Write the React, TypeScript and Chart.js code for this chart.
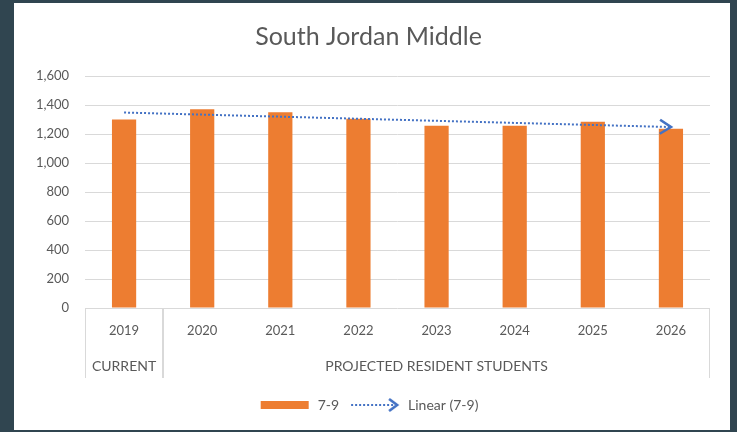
import { useEffect, useRef } from "react";
import { Chart, registerables } from "chart.js";

Chart.register(...registerables);

const TITLE = "South Jordan Middle";
const YEARS = ["2019", "2020", "2021", "2022", "2023", "2024", "2025", "2026"];
const ENROLLMENT = [1300, 1370, 1350, 1306, 1257, 1257, 1285, 1237];
const GROUP_LABELS = ["CURRENT", "PROJECTED RESIDENT STUDENTS"];
const GROUP_FIRST_YEAR = ["2019", "2020"];
const GROUP_LAST_YEAR = ["2019", "2026"];
const TREND_YEARS = ["2019", "2026"];
const TREND_VALUES = [1348, 1248];
const Y_MIN = 0;
const Y_MAX = 1600;
const Y_STEP = 200;
const SERIES_LABEL = "7-9";
const TREND_LABEL = "Linear (7-9)";

const BG = "#304550";
const ORANGE = "#ED7D31";
const BLUE = "#4472C4";
const GRID = "#d9d9d9";
const TEXT = "#595959";
const FONT = "Lato, 'Open Sans', sans-serif";

function drawChevron(ctx: CanvasRenderingContext2D, x: number, y: number, angle: number) {
  ctx.save();
  ctx.translate(x, y);
  ctx.rotate(angle);
  ctx.strokeStyle = BLUE;
  ctx.lineWidth = 2.6;
  ctx.lineCap = "butt";
  ctx.lineJoin = "miter";
  ctx.beginPath();
  ctx.moveTo(-11, -7);
  ctx.lineTo(0, 0);
  ctx.lineTo(-11, 7);
  ctx.stroke();
  ctx.restore();
}

const groupAxisPlugin = {
  id: "groupAxis",
  afterDraw(chart: any) {
    const ctx: CanvasRenderingContext2D = chart.ctx;
    const xs = chart.scales.x;
    const area = chart.chartArea;
    const top = area.bottom;
    const bottom = top + 70;
    const half = (xs.getPixelForValue(1) - xs.getPixelForValue(0)) / 2;
    ctx.save();
    ctx.strokeStyle = GRID;
    ctx.lineWidth = 1;
    const edges = new Set<number>();
    GROUP_LABELS.forEach((_, i) => {
      const a = YEARS.indexOf(GROUP_FIRST_YEAR[i]);
      const b = YEARS.indexOf(GROUP_LAST_YEAR[i]);
      edges.add(Math.round(xs.getPixelForValue(a) - half) + 0.5);
      edges.add(Math.round(xs.getPixelForValue(b) + half) - 0.5);
    });
    edges.forEach((ex) => {
      ctx.beginPath();
      ctx.moveTo(ex, top);
      ctx.lineTo(ex, bottom);
      ctx.stroke();
    });
    ctx.fillStyle = TEXT;
    ctx.font = `14px ${FONT}`;
    ctx.textAlign = "center";
    ctx.textBaseline = "middle";
    GROUP_LABELS.forEach((lab, i) => {
      const a = YEARS.indexOf(GROUP_FIRST_YEAR[i]);
      const b = YEARS.indexOf(GROUP_LAST_YEAR[i]);
      const cx = (xs.getPixelForValue(a) + xs.getPixelForValue(b)) / 2;
      ctx.fillText(lab, cx, top + 58);
    });
    ctx.restore();
  },
  afterDatasetsDraw(chart: any) {
    const meta = chart.getDatasetMeta(1);
    if (!meta || !meta.data || meta.data.length < 2) return;
    const p1 = meta.data[meta.data.length - 2];
    const p2 = meta.data[meta.data.length - 1];
    const ang = Math.atan2(p2.y - p1.y, p2.x - p1.x);
    drawChevron(chart.ctx, p2.x, p2.y, ang);
  },
};

function makeBarIcon(): HTMLCanvasElement {
  const c = document.createElement("canvas");
  c.width = 52;
  c.height = 14;
  const g = c.getContext("2d")!;
  g.fillStyle = ORANGE;
  g.fillRect(2, 3, 48, 8);
  return c;
}

function makeTrendIcon(): HTMLCanvasElement {
  const c = document.createElement("canvas");
  c.width = 52;
  c.height = 16;
  const g = c.getContext("2d")!;
  g.strokeStyle = BLUE;
  g.lineWidth = 2;
  g.setLineDash([2, 2]);
  g.beginPath();
  g.moveTo(2, 8);
  g.lineTo(46, 8);
  g.stroke();
  g.setLineDash([]);
  g.lineWidth = 2.6;
  g.beginPath();
  g.moveTo(40, 2);
  g.lineTo(48, 8);
  g.lineTo(40, 14);
  g.stroke();
  return c;
}

export default function App() {
  const ref = useRef<HTMLCanvasElement | null>(null);

  useEffect(() => {
    document.body.style.margin = "0";
    if (!ref.current) return;
    const barIcon = makeBarIcon();
    const trendIcon = makeTrendIcon();
    const chart = new Chart(ref.current, {
      type: "bar",
      data: {
        labels: YEARS,
        datasets: [
          {
            type: "bar",
            label: SERIES_LABEL,
            data: ENROLLMENT,
            backgroundColor: ORANGE,
            barPercentage: 0.31,
            categoryPercentage: 1,
            order: 2,
          },
          {
            type: "line",
            label: TREND_LABEL,
            data: TREND_YEARS.map((yr, i) => ({ x: yr, y: TREND_VALUES[i] })) as any,
            borderColor: BLUE,
            borderWidth: 2,
            borderDash: [2, 2],
            pointRadius: 0,
            fill: false,
            order: 1,
          },
        ],
      },
      options: {
        responsive: true,
        maintainAspectRatio: false,
        animation: false,
        layout: { padding: { left: 13, right: 20, top: 0, bottom: 8 } },
        plugins: {
          tooltip: { enabled: false },
          title: {
            display: true,
            text: TITLE,
            color: TEXT,
            font: { family: FONT, size: 25, weight: "normal" },
            padding: { top: 19, bottom: 24 },
          },
          legend: {
            position: "bottom",
            labels: {
              usePointStyle: true,
              pointStyleWidth: 52,
              boxHeight: 12,
              padding: 10,
              color: TEXT,
              font: { family: FONT, size: 14 },
              generateLabels: () => [
                { text: SERIES_LABEL, pointStyle: barIcon as any, fillStyle: ORANGE, strokeStyle: ORANGE, lineWidth: 0, hidden: false, datasetIndex: 0, fontColor: TEXT },
                { text: TREND_LABEL, pointStyle: trendIcon as any, fillStyle: BLUE, strokeStyle: BLUE, lineWidth: 0, hidden: false, datasetIndex: 1, fontColor: TEXT },
              ],
            },
          },
        },
        scales: {
          x: {
            type: "category",
            offset: true,
            grid: { display: false, drawTicks: false },
            border: { display: false },
            ticks: { color: TEXT, font: { family: FONT, size: 13 }, padding: 15, maxRotation: 0 },
            afterFit: (s: any) => {
              s.height = 80;
            },
          },
          y: {
            min: Y_MIN,
            max: Y_MAX,
            ticks: { stepSize: Y_STEP, color: TEXT, font: { family: FONT, size: 13 }, padding: 16 },
            grid: { color: GRID, drawTicks: false },
            border: { display: false },
            afterFit: (s: any) => {
              s.width = 58;
            },
          },
        },
      },
      plugins: [groupAxisPlugin],
    });
    return () => chart.destroy();
  }, []);

  return (
    <div style={{ position: "fixed", left: 0, top: 0, width: 737, height: 432, background: BG }}>
      <div style={{ position: "absolute", left: 14, top: 3, width: 716, height: 427, background: "#ffffff" }}>
        <canvas ref={ref} />
      </div>
    </div>
  );
}
